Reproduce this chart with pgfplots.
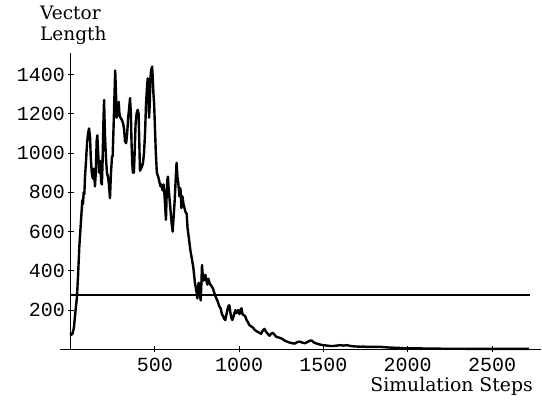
\documentclass[border=0pt]{standalone}
\usepackage{pgfplots}
\pgfplotsset{compat=1.18}
\usepackage{fontspec}
\setmainfont{DejaVu Serif}
\newfontfamily\tickfont{Liberation Mono}
\begin{document}
\begin{tikzpicture}
\begin{axis}[
  name=ax, at={(0,0)}, anchor=south west,
  scale only axis, width=480.5pt, height=296.5pt,
  xmin=-60, xmax=2790, ymin=0, ymax=1509,
  axis lines=middle, axis line style={-, line width=1.3pt},
  clip=false,
  xtick={500,1000,1500,2000,2500},
  ytick={200,400,600,800,1000,1200,1400},
  tick align=center, major tick length=6pt,
  tick style={line width=1pt, black},
  /pgf/number format/assume math mode=true,
  /pgf/number format/set thousands separator={},
  ticklabel style={font=\tickfont\fontsize{20}{20}\selectfont},
  yticklabel style={xshift=1pt},
  xticklabel style={yshift=-2pt},
  every axis x label/.style={at={(axis description cs:1,0)}, anchor=base east, inner sep=0pt, xshift=-8pt, yshift=-42.5pt, font=\fontsize{18.8}{20}\selectfont},
  every axis y label/.style={at={(axis description cs:0,1)}, anchor=south west, inner sep=0pt, xshift=-20.4pt, yshift=8pt, align=left, font=\fontsize{18.5}{21}\selectfont},
  xlabel={Simulation Steps},
  ylabel={Vector\\Length},
]
\addplot[black, line width=1.4pt] coordinates {(0,277) (2725,277)};
\addplot[black, line width=2.4pt, line join=round] coordinates {
(0,85) (5,75) (12,80) (20,110) (30,200) (38,265) (45,380) (52,520) (58,600) (64,680)
(70,760) (74,740) (78,800) (82,790) (86,880) (92,960) (98,1050) (104,1100) (110,1125) (116,1080)
(120,980) (126,900) (132,870) (138,920) (145,830) (150,900) (155,1060) (159,1090) (164,1000) (170,900)
(176,960) (182,850) (186,840) (190,950) (195,1150) (199,1270) (204,1100) (210,980) (216,900) (222,880)
(228,840) (234,770) (240,900) (246,980) (250,985) (256,1150) (261,1300) (265,1420) (270,1300) (274,1180)
(278,1250) (282,1190) (286,1260) (290,1200) (296,1180) (304,1170) (312,1150) (318,1120) (323,1060) (330,1050)
(336,1100) (342,1180) (348,1230) (353,1280) (358,1200) (362,1050) (366,950) (370,900) (376,900) (380,990)
(386,1150) (392,1200) (398,1220) (404,1200) (408,1050) (412,910) (418,920) (424,930) (430,950) (436,1000)
(442,1100) (448,1250) (454,1340) (458,1380) (462,1300) (466,1180) (470,1250) (474,1380) (478,1420) (484,1440)
(488,1380) (492,1300) (496,1250) (500,1150) (506,1000) (512,900) (520,880) (528,850) (534,830) (540,840)
(546,810) (552,840) (557,790) (562,720) (566,660) (570,780) (574,860) (578,880) (582,820) (588,760)
(594,700) (600,640) (606,600) (612,680) (618,760) (624,870) (629,950) (634,880) (640,840) (646,780)
(652,820) (658,720) (664,780) (670,740) (676,720) (682,700) (689,690) (694,620) (700,580) (706,540)
(710,510) (716,480) (722,450) (728,420) (733,380) (738,340) (742,320) (748,290) (752,260) (756,310)
(760,340) (764,300) (768,280) (772,250) (776,330) (780,430) (784,380) (788,350) (794,360) (800,380)
(806,350) (812,330) (818,360) (824,340) (830,330) (838,320) (845,310) (852,290) (860,270) (868,255)
(875,240) (882,220) (890,210) (898,180) (905,170) (912,155) (918,150) (924,175) (930,200) (936,220)
(942,225) (948,190) (954,160) (960,150) (966,165) (972,185) (978,200) (984,185) (990,195) (996,200)
(1002,180) (1008,200) (1014,210) (1020,180) (1028,175) (1036,170) (1044,150) (1052,140) (1060,125) (1068,120)
(1076,115) (1084,110) (1092,100) (1100,95) (1110,90) (1120,85) (1130,80) (1140,95) (1150,105) (1160,90)
(1170,80) (1180,70) (1190,80) (1200,85) (1210,75) (1220,65) (1230,62) (1240,60) (1255,55) (1270,45)
(1285,40) (1300,35) (1315,32) (1330,30) (1345,38) (1360,40) (1375,35) (1390,32) (1405,38) (1420,45)
(1431,45) (1445,35) (1460,30) (1480,25) (1500,22) (1520,20) (1540,18) (1560,18) (1580,20) (1600,22)
(1620,20) (1640,22) (1660,18) (1680,16) (1700,15) (1720,14) (1740,15) (1760,13) (1780,14) (1800,13)
(1830,14) (1860,12) (1890,10) (1920,9) (1950,8) (1980,7) (2000,6) (2050,6) (2100,5) (2150,5)
(2200,4) (2300,4) (2400,3) (2500,3) (2600,3) (2720,3)
};
\end{axis}
\pgfresetboundingbox
\path (-60.4pt,-51.5pt) rectangle (481.6pt,349.5pt);
\end{tikzpicture}
\end{document}
